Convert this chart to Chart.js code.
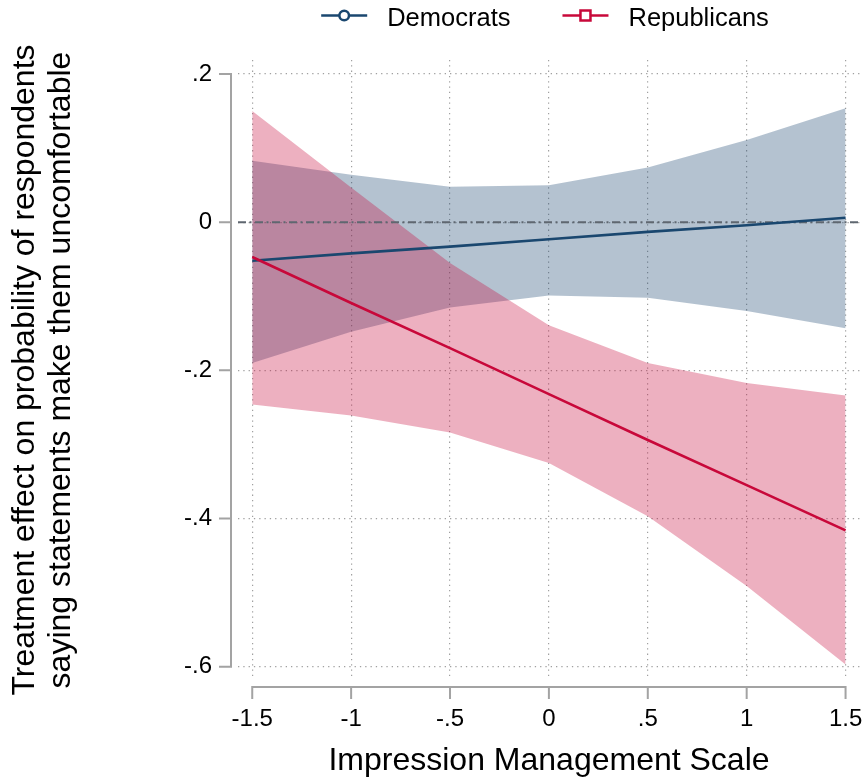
<!DOCTYPE html>
<html>
<head>
<meta charset="utf-8">
<title>Treatment effect by Impression Management Scale</title>
<script src="https://cdn.jsdelivr.net/npm/chart.js@4/dist/chart.umd.min.js"></script>
<style>
  html, body { margin: 0; padding: 0; background: #ffffff; }
  #wrap { width: 864px; height: 780px; }
</style>
</head>
<body>
<div id="wrap"><canvas id="chart" width="864" height="780"></canvas></div>
<script>
// Impression Management Scale values where the effects were estimated
const scaleValues = [-1.5, -1, -0.5, 0, 0.5, 1, 1.5];

// Democrats: point estimate and 95% confidence bounds
const demEstimate = [-0.052, -0.042, -0.033, -0.023, -0.013, -0.004, 0.006];
const demUpper    = [0.083, 0.064, 0.048, 0.050, 0.074, 0.111, 0.154];
const demLower    = [-0.190, -0.148, -0.115, -0.099, -0.102, -0.120, -0.143];

// Republicans: point estimate and 95% confidence bounds
const repEstimate = [-0.047, -0.109, -0.170, -0.232, -0.294, -0.355, -0.416];
const repUpper    = [0.150, 0.047, -0.055, -0.139, -0.190, -0.217, -0.234];
const repLower    = [-0.246, -0.261, -0.284, -0.325, -0.397, -0.491, -0.597];

// Axis ticks
const xTicks = [-1.5, -1, -0.5, 0, 0.5, 1, 1.5];
const yTicks = [-0.6, -0.4, -0.2, 0, 0.2];

const seriesLabels = ['Democrats', 'Republicans'];
const yTitle = ['Treatment effect on probability of respondents',
                'saying statements make them uncomfortable'];
const xTitle = 'Impression Management Scale';

const NAVY = '#1a476f';
const CRIMSON = '#c8083a';
const NAVY_BAND = 'rgba(26, 71, 111, 0.33)';
const CRIMSON_BAND = 'rgba(200, 8, 58, 0.32)';
const AXIS_GREY = '#a3a3a3';
const GRID_GREY = '#a0a0a0';
const FONT = '"Liberation Sans", Arial, Helvetica, sans-serif';

const pts = vals => scaleValues.map((x, i) => ({ x: x, y: vals[i] }));

// Stata-like number labels: .2, -.4, 1.5
function fmt(v) {
  const r = Math.round(v * 100) / 100;
  if (r === 0) return '0';
  return String(r).replace(/^(-?)0\./, '$1.');
}

// Axis lines that span only the tick range, with outward tick marks
const frameAxes = {
  id: 'frameAxes',
  afterDraw(chart) {
    const { ctx, chartArea: a, scales: { x, y } } = chart;
    ctx.save();
    ctx.strokeStyle = AXIS_GREY;
    ctx.lineWidth = 2;
    ctx.lineCap = 'butt';
    const ax = a.left - 7;
    const yTop = y.getPixelForValue(yTicks[yTicks.length - 1]);
    const yBot = y.getPixelForValue(yTicks[0]);
    ctx.beginPath();
    ctx.moveTo(ax, yTop - 1);
    ctx.lineTo(ax, yBot + 1);
    yTicks.forEach(t => {
      const p = y.getPixelForValue(t);
      ctx.moveTo(ax, p);
      ctx.lineTo(ax - 12, p);
    });
    const ay = a.bottom + 7;
    const xL = x.getPixelForValue(xTicks[0]);
    const xR = x.getPixelForValue(xTicks[xTicks.length - 1]);
    ctx.moveTo(xL - 1, ay);
    ctx.lineTo(xR + 1, ay);
    xTicks.forEach(t => {
      const p = x.getPixelForValue(t);
      ctx.moveTo(p, ay);
      ctx.lineTo(p, ay + 12);
    });
    ctx.stroke();
    ctx.restore();
  }
};

// Legend: line with hollow marker, then the series name
const lineLegend = {
  id: 'lineLegend',
  afterDraw(chart) {
    const { ctx, chartArea: a } = chart;
    const items = chart.data.datasets.filter(d => d.legendMarker);
    items.sort((p, q) => p.legendOrder - q.legendOrder);
    ctx.save();
    ctx.font = '25.5px ' + FONT;
    const symW = 46, gap = 20, between = 52;
    const widths = items.map(d => symW + gap + ctx.measureText(d.label).width);
    const total = widths.reduce((s, w) => s + w, 0) + between * (items.length - 1);
    let cx = (a.left + a.right) / 2 - 4 - total / 2;
    const lineY = 15.5;
    items.forEach((d, i) => {
      ctx.strokeStyle = d.borderColor;
      ctx.lineWidth = 2.5;
      ctx.beginPath();
      ctx.moveTo(cx, lineY);
      ctx.lineTo(cx + symW, lineY);
      ctx.stroke();
      ctx.fillStyle = '#ffffff';
      ctx.beginPath();
      if (d.legendMarker === 'circle') {
        ctx.arc(cx + symW / 2, lineY, 4.8, 0, Math.PI * 2);
      } else {
        ctx.rect(cx + symW / 2 - 5, lineY - 5, 10, 10);
      }
      ctx.fill();
      ctx.stroke();
      ctx.fillStyle = '#000000';
      ctx.textBaseline = 'alphabetic';
      ctx.textAlign = 'left';
      ctx.fillText(d.label, cx + symW + gap, 26);
      cx += widths[i] + between;
    });
    ctx.restore();
  }
};

const lineStyle = { pointRadius: 0, pointHoverRadius: 0, tension: 0, fill: false };
const bandStyle = { pointRadius: 0, pointHoverRadius: 0, tension: 0, borderWidth: 0 };

new Chart(document.getElementById('chart'), {
  type: 'line',
  data: {
    datasets: [
      Object.assign({ label: seriesLabels[1], data: pts(repEstimate), borderColor: CRIMSON,
        borderWidth: 2.6, legendMarker: 'rect', legendOrder: 2 }, lineStyle),
      Object.assign({ label: seriesLabels[0], data: pts(demEstimate), borderColor: NAVY,
        borderWidth: 2.6, legendMarker: 'circle', legendOrder: 1 }, lineStyle),
      Object.assign({ label: 'zero', data: [{ x: -1.572, y: 0 }, { x: 1.573, y: 0 }],
        borderColor: '#5f6770', borderWidth: 2, borderDash: [8, 3.5, 2, 3.5] }, lineStyle),
      Object.assign({ label: 'rep-upper', data: pts(repUpper), backgroundColor: CRIMSON_BAND,
        borderColor: 'transparent', fill: '+1' }, bandStyle),
      Object.assign({ label: 'rep-lower', data: pts(repLower), borderColor: 'transparent',
        fill: false }, bandStyle),
      Object.assign({ label: 'dem-upper', data: pts(demUpper), backgroundColor: NAVY_BAND,
        borderColor: 'transparent', fill: '+1' }, bandStyle),
      Object.assign({ label: 'dem-lower', data: pts(demLower), borderColor: 'transparent',
        fill: false }, bandStyle)
    ]
  },
  options: {
    responsive: false,
    animation: false,
    devicePixelRatio: 1,
    layout: { padding: { left: 8, top: 60, right: 4, bottom: 1 } },
    plugins: {
      legend: { display: false },
      tooltip: { enabled: false },
      filler: { propagate: false }
    },
    scales: {
      x: {
        type: 'linear',
        min: -1.572,
        max: 1.573,
        afterBuildTicks: s => { s.ticks = xTicks.map(v => ({ value: v })); },
        afterFit: s => { s.height = 99; s.paddingLeft = 0; s.paddingRight = 0; },
        border: { display: false, dash: [1.3, 4] },
        grid: { drawTicks: false, color: GRID_GREY, lineWidth: 1.2 },
        ticks: { padding: 24.5, maxRotation: 0, autoSkip: false, color: '#000000',
          font: { family: FONT, size: 24 }, callback: v => fmt(v) },
        title: { display: true, text: xTitle, color: '#000000', padding: 0,
          font: { family: FONT, size: 32, lineHeight: 1.1 } }
      },
      y: {
        type: 'linear',
        min: -0.618,
        max: 0.219,
        afterBuildTicks: s => { s.ticks = yTicks.map(v => ({ value: v })); },
        afterFit: s => { s.width = 230; s.paddingTop = 0; s.paddingBottom = 0; },
        border: { display: false, dash: [1.3, 4] },
        grid: { drawTicks: false, color: GRID_GREY, lineWidth: 1.2 },
        ticks: { padding: 26, autoSkip: false, color: '#000000',
          font: { family: FONT, size: 24 }, callback: v => fmt(v) },
        title: { display: true, text: yTitle, color: '#000000', padding: 0,
          font: { family: FONT, size: 32, lineHeight: 1.1 } }
      }
    }
  },
  plugins: [frameAxes, lineLegend]
});
</script>
</body>
</html>
